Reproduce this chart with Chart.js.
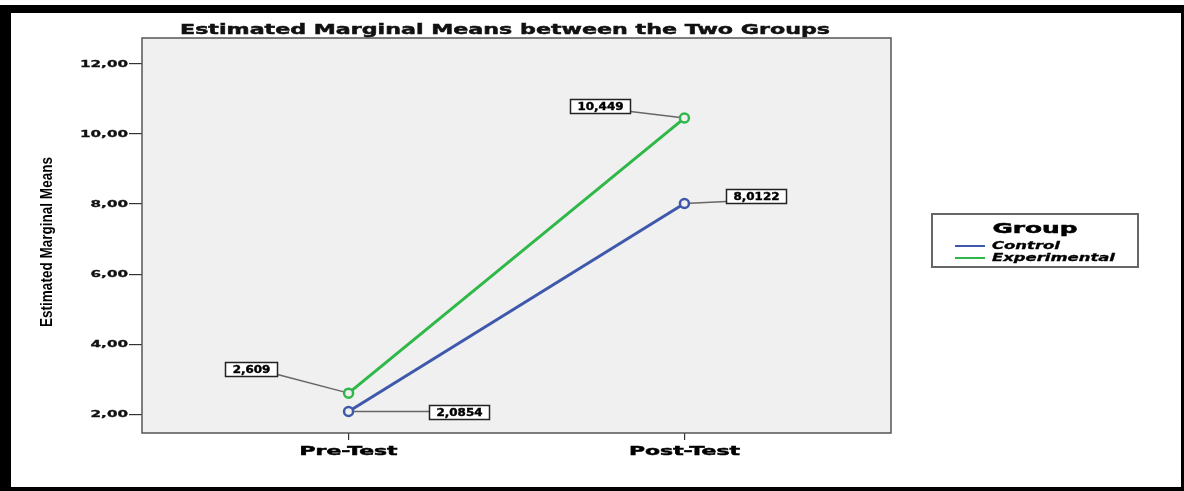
<!DOCTYPE html>
<html><head><meta charset="utf-8">
<script src="https://cdn.jsdelivr.net/npm/chart.js@4.4.0/dist/chart.umd.min.js"></script>
<style>html,body{margin:0;padding:0;background:#fff;overflow:hidden}#wrap{position:relative;width:1184px;height:491px}</style>
</head><body><div id="wrap"><canvas id="c" width="1184" height="491"></canvas></div>
<script>
const categories = ['Pre-Test', 'Post-Test'];
const seriesNames = ['Control', 'Experimental'];
const controlMeans = [2.0854, 8.0122];
const experimentalMeans = [2.609, 10.449];
const controlLabels = ['2,0854', '8,0122'];
const experimentalLabels = ['2,609', '10,449'];
const yTickValues = [2, 4, 6, 8, 10, 12];
const yTickLabels = ['2,00', '4,00', '6,00', '8,00', '10,00', '12,00'];
const chartTitle = 'Estimated Marginal Means between the Two Groups';
const yAxisTitle = 'Estimated Marginal Means';
const legendTitle = 'Group';

const BLUE = '#3E58AC';
const GREEN = '#2EB848';
const PLOT_BG = '#f0f0f0';
const FONT = '"DejaVu Sans", sans-serif';

function sxFor(ctx, text, font, target) {
  ctx.save(); ctx.font = font; const w = ctx.measureText(text).width; ctx.restore();
  return target / w;
}
function sText(ctx, text, x, y, font, sx, align, baseline, color, heavy) {
  ctx.save();
  ctx.font = font; ctx.textAlign = align; ctx.textBaseline = baseline; ctx.fillStyle = color || '#000';
  ctx.translate(x, y); ctx.scale(sx, 1); ctx.fillText(text, 0, 0);
  if (heavy) { ctx.strokeStyle = color || '#000'; ctx.lineWidth = heavy; ctx.strokeText(text, 0, 0); }
  ctx.restore();
}

const decor = {
  id: 'decor',
  beforeDraw(chart) {
    const ctx = chart.ctx, a = chart.chartArea;
    ctx.save();
    ctx.fillStyle = '#fff'; ctx.fillRect(0, 0, chart.width, chart.height);
    ctx.fillStyle = '#000';
    ctx.fillRect(0, 5, chart.width, 8);
    ctx.fillRect(0, 5, 11, chart.height - 5);
    ctx.fillRect(chart.width - 3, 5, 3, chart.height - 5);
    ctx.fillRect(0, chart.height - 4, chart.width, 4);
    ctx.fillStyle = PLOT_BG;
    ctx.fillRect(a.left, a.top, a.right - a.left, a.bottom - a.top);
    ctx.restore();
  },
  beforeDatasetsDraw(chart) {
    const ctx = chart.ctx, a = chart.chartArea;
    ctx.save();
    ctx.strokeStyle = '#555'; ctx.lineWidth = 1.5;
    ctx.strokeRect(a.left, a.top, a.right - a.left, a.bottom - a.top);
    chart.data.datasets.forEach((ds, di) => {
      const meta = chart.getDatasetMeta(di);
      meta.data.forEach((pt, i) => {
        const b = labelBox(chart, ds, i, pt);
        const ay = Math.min(Math.max(pt.y, b.y + 2), b.y + b.h - 2);
        const ax = ds.labelOffsets[i][0] < 0 ? b.x + b.w : b.x;
        ctx.strokeStyle = '#666'; ctx.lineWidth = 1.5;
        ctx.beginPath(); ctx.moveTo(ax, ay); ctx.lineTo(pt.x, pt.y); ctx.stroke();
      });
    });
    ctx.restore();
  },
  afterDatasetsDraw(chart) {
    const ctx = chart.ctx;
    chart.data.datasets.forEach((ds, di) => {
      const meta = chart.getDatasetMeta(di);
      meta.data.forEach((pt, i) => {
        const b = labelBox(chart, ds, i, pt);
        ctx.save();
        ctx.fillStyle = '#fff'; ctx.fillRect(b.x, b.y, b.w, b.h);
        ctx.strokeStyle = '#222'; ctx.lineWidth = 1.5; ctx.strokeRect(b.x, b.y, b.w, b.h);
        ctx.restore();
        sText(ctx, ds.valueLabels[i], b.x + b.w / 2, b.y + b.h / 2 + 0.5, b.font, b.sx, 'center', 'middle', '#000', 0.4);
      });
    });
  },
  afterDraw(chart) {
    const ctx = chart.ctx, a = chart.chartArea;
    const xs = chart.scales.x, ys = chart.scales.y;
    const tf = 'bold 14.5px ' + FONT;
    sText(ctx, chartTitle, 505, 33.5, tf, sxFor(ctx, chartTitle, tf, 650), 'center', 'alphabetic', '#111', 0.5);
    const yf = 'bold 9.5px ' + FONT;
    const ysx = sxFor(ctx, '12,00', yf, 48);
    yTickValues.forEach((v, i) => {
      sText(ctx, yTickLabels[i], a.left - 14, ys.getPixelForValue(v) + 0.5, yf, ysx, 'right', 'middle', '#111', 0.3);
    });
    const xf = 'bold 12.5px ' + FONT;
    const xsx = sxFor(ctx, 'Post-Test', xf, 111);
    categories.forEach((c, i) => {
      sText(ctx, c, xs.getPixelForValue(i), 452, xf, xsx, 'center', 'middle', '#000', 0.5);
    });
    const yt = 'bold 11px "Liberation Sans", Arial, sans-serif';
    ctx.save();
    ctx.font = yt;
    const w = ctx.measureText(yAxisTitle).width;
    ctx.translate(48, 242); ctx.rotate(-Math.PI / 2); ctx.scale(170 / w, 1.45);
    ctx.textAlign = 'center'; ctx.textBaseline = 'middle'; ctx.fillStyle = '#000';
    ctx.fillText(yAxisTitle, 0, 0);
    ctx.restore();
    ctx.save();
    ctx.fillStyle = '#fff'; ctx.fillRect(932, 214, 206, 53);
    ctx.strokeStyle = '#666'; ctx.lineWidth = 2; ctx.strokeRect(932, 214, 206, 53);
    ctx.restore();
    const gf = 'bold 13.5px ' + FONT;
    sText(ctx, legendTitle, 1035, 233, gf, sxFor(ctx, legendTitle, gf, 85), 'center', 'alphabetic', '#000', 0.5);
    const lf = 'italic bold 10px ' + FONT;
    const lsx = sxFor(ctx, 'Experimental', lf, 123);
    chart.data.datasets.forEach((ds, i) => {
      const y = 246 + i * 12;
      ctx.save(); ctx.strokeStyle = ds.borderColor; ctx.lineWidth = 2;
      ctx.beginPath(); ctx.moveTo(955, y); ctx.lineTo(985, y); ctx.stroke(); ctx.restore();
      sText(ctx, seriesNames[i], 992, y + 0.5, lf, lsx, 'left', 'middle', '#000', 0.3);
    });
  }
};

function labelBox(chart, ds, i, pt) {
  const ctx = chart.ctx;
  const font = 'bold 10px ' + FONT;
  const sx = sxFor(ctx, '10,449', font, 46);
  ctx.save(); ctx.font = font; const tw = ctx.measureText(ds.valueLabels[i]).width * sx; ctx.restore();
  const w = tw + 14, h = 14;
  const cx = pt.x + ds.labelOffsets[i][0], cy = pt.y + ds.labelOffsets[i][1];
  return { x: Math.round(cx - w / 2) + 0.5, y: Math.round(cy - h / 2) + 0.5, w: Math.round(w), h: h, font: font, sx: sx };
}

new Chart(document.getElementById('c'), {
  type: 'line',
  data: {
    datasets: [
      {
        label: seriesNames[0],
        data: categories.map((c, i) => ({ x: i, y: controlMeans[i] })),
        borderColor: BLUE, borderWidth: 3,
        pointRadius: 4.5, pointBorderWidth: 2.5, pointBackgroundColor: PLOT_BG, pointBorderColor: BLUE,
        tension: 0,
        valueLabels: controlLabels,
        labelOffsets: [[110.5, 0], [72, -8]]
      },
      {
        label: seriesNames[1],
        data: categories.map((c, i) => ({ x: i, y: experimentalMeans[i] })),
        borderColor: GREEN, borderWidth: 3,
        pointRadius: 4.5, pointBorderWidth: 2.5, pointBackgroundColor: PLOT_BG, pointBorderColor: GREEN,
        tension: 0,
        valueLabels: experimentalLabels,
        labelOffsets: [[-97.5, -24.5], [-84.5, -12]]
      }
    ]
  },
  options: {
    responsive: false,
    animation: false,
    layout: { padding: { left: 0, right: 293, top: 38, bottom: 0 } },
    plugins: { legend: { display: false }, title: { display: false }, tooltip: { enabled: false } },
    scales: {
      x: {
        type: 'linear', min: -0.615, max: 1.615,
        afterBuildTicks: s => { s.ticks = categories.map((c, i) => ({ value: i })); },
        afterFit: s => { s.height = 58; },
        ticks: { display: false },
        grid: { drawOnChartArea: false, drawTicks: true, tickLength: 7, color: '#333', lineWidth: 1.2 },
        border: { display: false }
      },
      y: {
        type: 'linear', min: 1.473, max: 12.73,
        afterBuildTicks: s => { s.ticks = yTickValues.map(v => ({ value: v })); },
        afterFit: s => { s.width = 142; },
        ticks: { display: false },
        grid: { drawOnChartArea: false, drawTicks: true, tickLength: 13, color: '#333', lineWidth: 1.2 },
        border: { display: false }
      }
    }
  },
  plugins: [decor]
});
</script>
</body></html>
